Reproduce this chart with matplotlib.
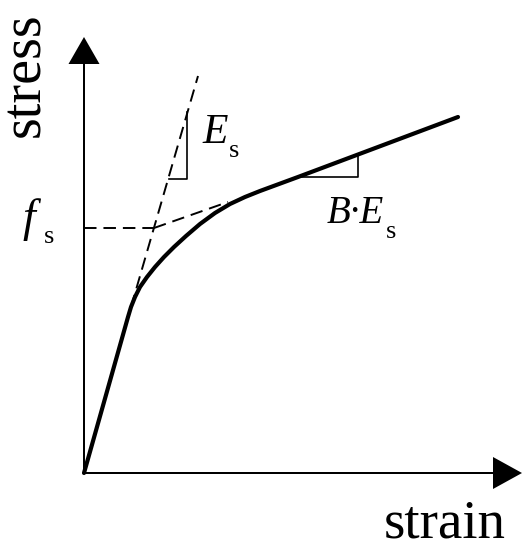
#schematic stress-strain curve with initial and hardening tangents
import matplotlib
matplotlib.use("Agg")
import matplotlib.pyplot as plt

plt.rcParams['font.family'] = ['Liberation Serif', 'DejaVu Serif']
plt.rcParams['lines.scale_dashes'] = False

#main curve (strain, stress in arbitrary units)
strain = [0.0, 0.44, 0.47, 0.51, 0.56, 0.63, 0.71, 0.80, 0.90, 1.02, 1.16, 1.31, 1.46, 1.61, 1.76, 2.14, 3.74]
stress = [0.0, 1.56, 1.66, 1.76, 1.86, 1.96, 2.06, 2.16, 2.26, 2.37, 2.49, 2.60, 2.69, 2.76, 2.82, 2.96, 3.56]

#initial stiffness tangent E_s
tan1_strain = [0.47, 1.14]
tan1_stress = [1.66, 3.97]

#hardening tangent B*E_s starting at yield point
tan2_strain = [0.70, 1.44]
tan2_stress = [2.45, 2.71]

#yield level f_s
fs_strain = [0.0, 0.70]
fs_stress = [2.45, 2.45]

#slope triangles
tri1_strain = [0.85, 1.03, 1.03]
tri1_stress = [2.94, 2.94, 3.61]
tri2_strain = [2.14, 2.74, 2.74]
tri2_stress = [2.96, 2.96, 3.19]

fig = plt.figure(figsize=(5.31, 5.50), dpi=100)
ax = fig.add_axes([0, 0, 1, 1])
ax.set_xlim(-0.84, 4.47)
ax.set_ylim(-0.77, 4.73)
ax.axis('off')

#axes with arrows
ax.arrow(0, 0, 0, 4.36, width=0.02, head_width=0.31, head_length=0.27,
         length_includes_head=True, color='black', lw=0)
ax.arrow(0, 0, 4.38, 0, width=0.02, head_width=0.32, head_length=0.29,
         length_includes_head=True, color='black', lw=0)

dash = (0, (9, 5))
ax.plot(tan1_strain, tan1_stress, color='black', lw=1.4, linestyle=dash)
ax.plot(tan2_strain, tan2_stress, color='black', lw=1.4, linestyle=dash)
ax.plot(fs_strain, fs_stress, color='black', lw=1.4, linestyle=dash)

ax.plot(tri1_strain, tri1_stress, color='black', lw=1.2)
ax.plot(tri2_strain, tri2_stress, color='black', lw=1.2)

ax.plot(strain, stress, color='black', lw=3.0, solid_capstyle='round', solid_joinstyle='round')

#labels - main letter italic, subscript set separately so it can sit low like the original
ax.text(1.18, 3.30, 'E', fontsize=30, style='italic', ha='left', va='baseline')
ax.text(1.45, 3.16, 's', fontsize=19, ha='left', va='baseline')

ax.text(2.43, 2.50, 'B\u00b7E', fontsize=28, style='italic', ha='left', va='baseline')
ax.text(3.02, 2.35, 's', fontsize=19, ha='left', va='baseline')

ax.text(-0.62, 2.42, 'f', fontsize=33, style='italic', ha='left', va='baseline')
ax.text(-0.40, 2.30, 's', fontsize=19, ha='left', va='baseline')

ax.text(3.00, -0.645, 'strain', fontsize=39.5, ha='left', va='baseline')
ax.text(-0.59, 3.98, 'stress', fontsize=40.5, rotation=90, ha='center', va='center')

fig.savefig('out.png', dpi=100)
